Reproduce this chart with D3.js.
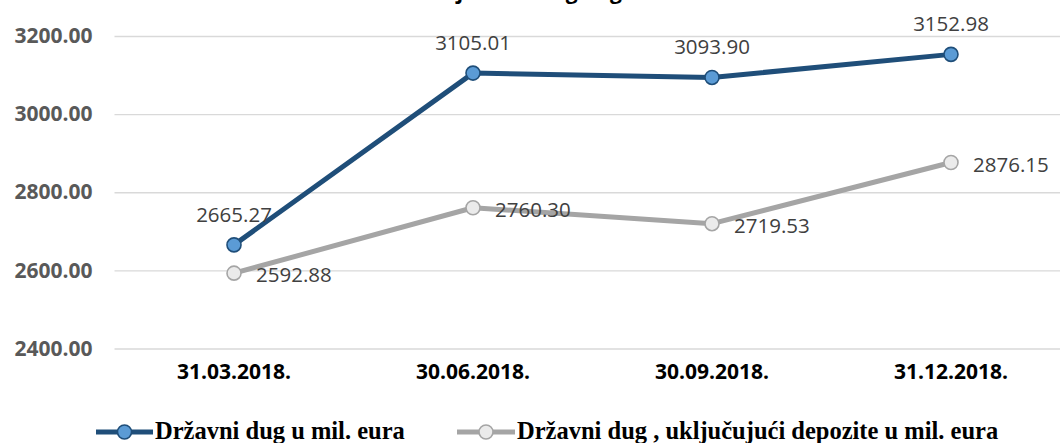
<!DOCTYPE html>
<html>
<head>
<meta charset="utf-8">
<script src="https://cdn.jsdelivr.net/npm/d3@7"></script>
<style>
  html, body { margin: 0; padding: 0; background: #fff; }
  svg { display: block; }
</style>
</head>
<body>
<svg id="chart" width="1060" height="443"></svg>
<script>
const categories = ["31.03.2018.", "30.06.2018.", "30.09.2018.", "31.12.2018."];
const seriesNames = ["Državni dug u mil. eura", "Državni dug , uključujući depozite u mil. eura"];
const debtValues = [2665.27, 3105.01, 3093.90, 3152.98];
const debtWithDepositsValues = [2592.88, 2760.30, 2719.53, 2876.15];
const yTicks = [2400, 2600, 2800, 3000, 3200];
const titleText = "Kretanje državnog duga";

const svg = d3.select("#chart");

const x = d3.scaleBand().domain(categories).range([114.5, 1070.5]);
const y = d3.scaleLinear().domain([2400, 3200]).range([348.5, 36]);
const cx = d => x(d) + x.bandwidth() / 2;

// title (mostly cut off at the top)
svg.append("text")
  .attr("x", 510).attr("y", -1)
  .attr("text-anchor", "middle")
  .attr("font-family", "Open Sans")
  .attr("font-weight", "bold")
  .attr("font-size", 21)
  .attr("fill", "#000")
  .text(titleText);

// gridlines + y labels
const yAxis = d3.axisLeft(y).tickValues(yTicks).tickFormat(d3.format(".2f"))
  .tickSize(-(1070.5 - 114.5)).tickPadding(22);
const yg = svg.append("g").attr("transform", "translate(114.5,0)").call(yAxis);
yg.select(".domain").remove();
yg.selectAll(".tick line").attr("stroke", "#d9d9d9").attr("stroke-width", 1.3);
yg.selectAll(".tick text")
  .attr("font-family", "Open Sans").attr("font-weight", "bold")
  .attr("font-size", 21).attr("fill", "#595959");

// x labels
const xAxis = d3.axisBottom(x).tickSize(0).tickPadding(0);
const xg = svg.append("g").attr("transform", "translate(0,364)").call(xAxis);
xg.select(".domain").remove();
xg.selectAll(".tick text")
  .attr("font-family", "Open Sans").attr("font-weight", "bold")
  .attr("font-size", 21).attr("fill", "#000").attr("dy", "0.71em");

const line = d3.line().x((d, i) => cx(categories[i])).y(d => y(d));

const styles = [
  { values: debtValues, stroke: "#1f4e79", fill: "#5b9bd5" },
  { values: debtWithDepositsValues, stroke: "#a5a5a5", fill: "#ebebeb" }
];

// draw gray first then blue on top
[1, 0].forEach(k => {
  const s = styles[k];
  svg.append("path").datum(s.values)
    .attr("d", line).attr("fill", "none")
    .attr("stroke", s.stroke).attr("stroke-width", 5)
    .attr("stroke-linejoin", "round");
  svg.selectAll(null).data(s.values).enter().append("circle")
    .attr("cx", (d, i) => cx(categories[i])).attr("cy", d => y(d))
    .attr("r", 7).attr("fill", s.fill)
    .attr("stroke", s.stroke).attr("stroke-width", 1.6);
});

// data labels
const lbl = { "font-family": "Open Sans", "font-size": 20.5, "fill": "#404040" };
svg.selectAll(null).data(debtValues).enter().append("text")
  .attr("x", (d, i) => cx(categories[i])).attr("y", d => y(d) - 23)
  .attr("text-anchor", "middle")
  .attr("font-family", lbl["font-family"]).attr("font-size", lbl["font-size"]).attr("fill", lbl.fill)
  .text(d => d.toFixed(2));
svg.selectAll(null).data(debtWithDepositsValues).enter().append("text")
  .attr("x", (d, i) => cx(categories[i]) + 22).attr("y", d => y(d) + 9)
  .attr("text-anchor", "start")
  .attr("font-family", lbl["font-family"]).attr("font-size", lbl["font-size"]).attr("fill", lbl.fill)
  .text(d => d.toFixed(2));

// legend
const legendItems = [
  { name: seriesNames[0], x0: 96, x1: 153, tx: 155, s: styles[0] },
  { name: seriesNames[1], x0: 457, x1: 515, tx: 517, s: styles[1] }
];
const ly = 432;
legendItems.forEach(it => {
  svg.append("line").attr("x1", it.x0).attr("x2", it.x1).attr("y1", ly).attr("y2", ly)
    .attr("stroke", it.s.stroke).attr("stroke-width", 5);
  svg.append("circle").attr("cx", (it.x0 + it.x1) / 2).attr("cy", ly).attr("r", 7)
    .attr("fill", it.s.fill).attr("stroke", it.s.stroke).attr("stroke-width", 1.6);
  svg.append("text").attr("x", it.tx).attr("y", ly + 7)
    .attr("font-family", "Liberation Serif").attr("font-weight", "bold")
    .attr("font-size", 24.5).attr("fill", "#000")
    .text(it.name);
});
</script>
</body>
</html>
